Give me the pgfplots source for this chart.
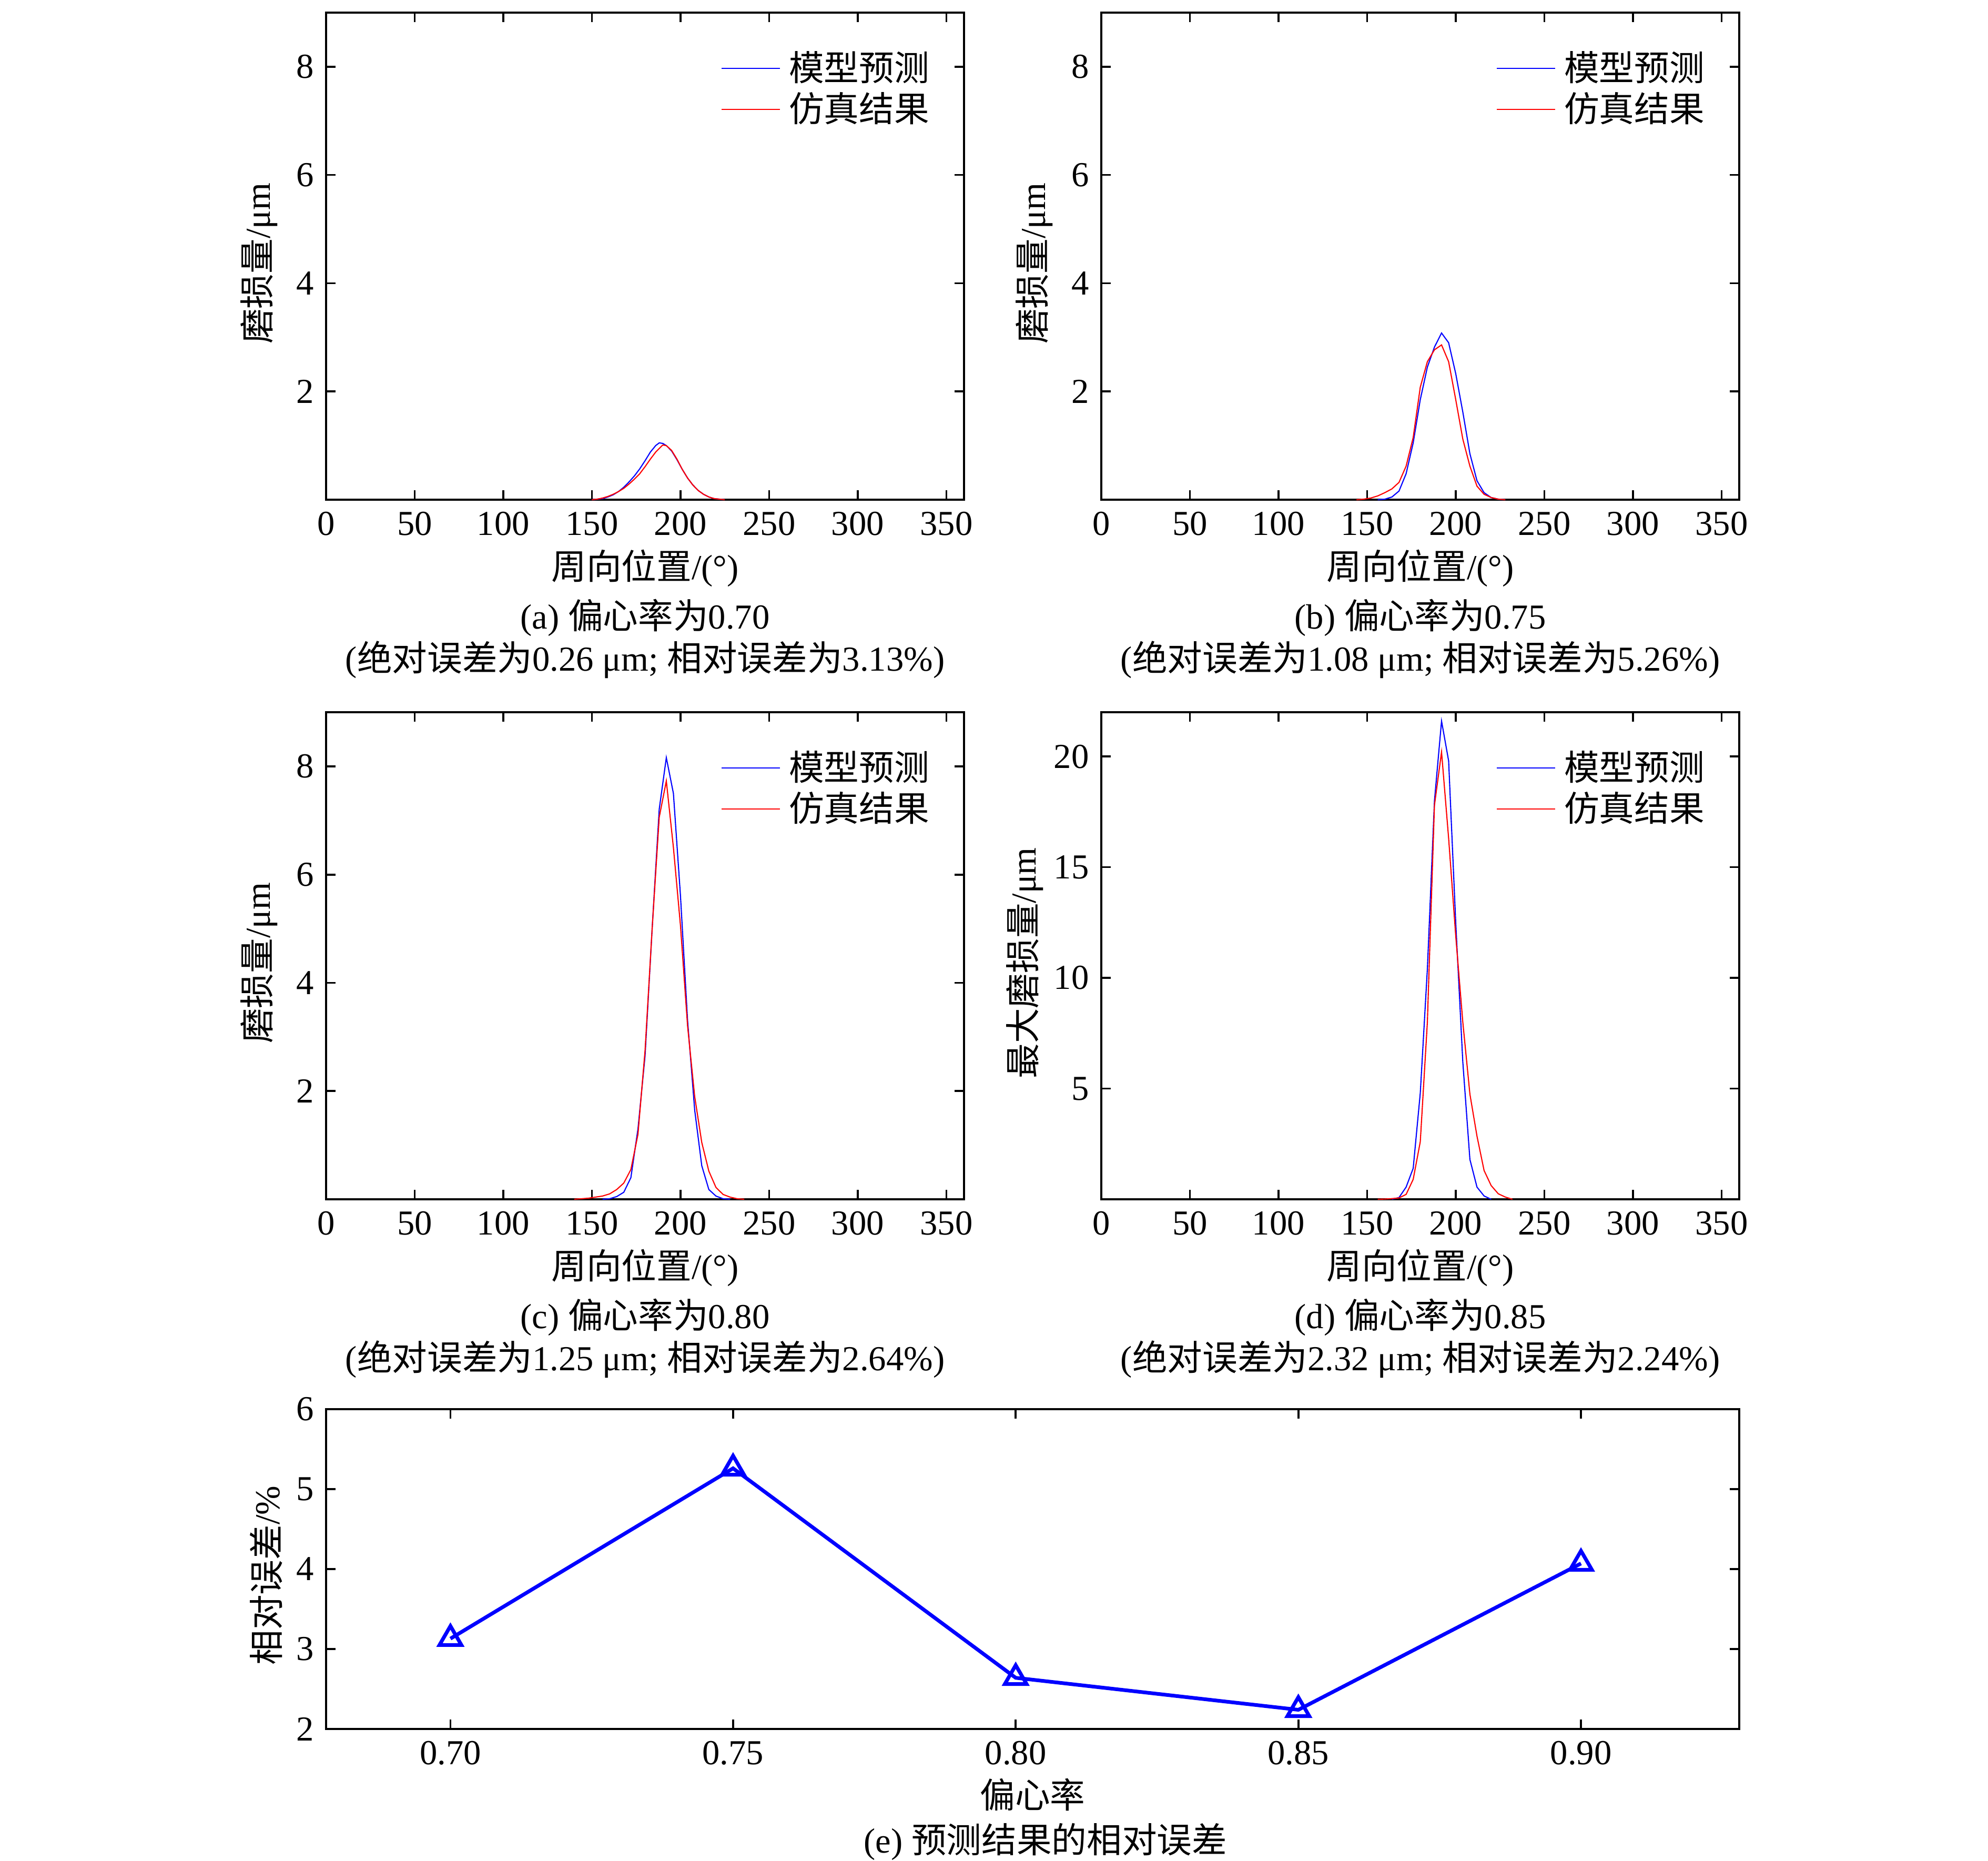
\documentclass[border=0pt]{standalone}
\usepackage{fontspec}
\setmainfont{Liberation Serif}
\newfontfamily\cjk{Noto Sans CJK SC}
\usepackage{pgfplots}
\pgfplotsset{compat=1.18}

\pgfplotsset{
  common/.style={
    scale only axis,
    tick align=inside,
    tick pos=both,
    major tick length=2.7pt,
    axis line style={line width=0.55pt},
    major tick style={line width=0.55pt, black},
    /pgf/number format/assume math mode=true,
    clip=false,
  },
  wearax/.style={
    common,
    width=181.95pt, height=138.9pt,
    xmin=0, xmax=360, ymin=0,
    xtick={0,50,...,350},
    xlabel={{\cjk 周向位置}/(°)},
    xlabel style={at={(axis description cs:0.5,-0.1404)}, anchor=center},
    legend style={draw=none, fill=none, at={(axis description cs:1,1)}, anchor=north east,
      xshift=-9.75pt, yshift=-10.8pt, inner sep=0pt, row sep=1.8pt, column sep=2.4pt,
      nodes={inner sep=0pt}},
    legend cell align=left,
    legend image code/.code={\draw[##1] (0pt,0pt) -- (16.65pt,0pt);},
  },
  pred/.style={color=blue, line width=0.32pt},
  sim/.style={color=red, line width=0.32pt},
}

\begin{document}
\begin{tikzpicture}
\useasboundingbox (0,0) rectangle (567pt,530.55pt);

% (a)
\begin{axis}[wearax, at={(93pt,388.05pt)}, anchor=south west,
  ymax=9, ytick={2,4,6,8},
  ylabel={{\cjk 磨损量}/μm},
  ylabel style={at={(axis description cs:-0.105,0.485)}, anchor=center}]
\addplot[pred] coordinates {(150,0)(153,0.01)(156,0.02)(159,0.05)(162,0.09)(165,0.15)(168,0.23)(171,0.33)(174,0.44)(177,0.57)(180,0.72)(183,0.88)(186,1.00)(188,1.05)(190,1.04)(192,1.00)(195,0.90)(198,0.74)(201,0.56)(204,0.40)(207,0.27)(210,0.17)(213,0.10)(216,0.05)(219,0.02)(222,0.01)(225,0)};
\addlegendentry{{\cjk 模型预测}}
\addplot[sim] coordinates {(150,0)(153,0.01)(156,0.03)(159,0.06)(162,0.10)(165,0.15)(168,0.21)(171,0.29)(174,0.38)(177,0.48)(180,0.61)(183,0.75)(186,0.88)(189,0.98)(190,1.01)(192,1.00)(195,0.91)(198,0.75)(201,0.56)(204,0.40)(207,0.27)(210,0.17)(213,0.10)(216,0.05)(219,0.02)(222,0.01)(225,0)};
\addlegendentry{{\cjk 仿真结果}}
\node[anchor=center] at (axis description cs:0.5,-0.2419) {(a) {\cjk 偏心率为}0.70};
\node[anchor=center] at (axis description cs:0.5,-0.3283) {({\cjk 绝对误差为}0.26 μm; {\cjk 相对误差为}3.13\%)};
\end{axis}

% (b)
\begin{axis}[wearax, at={(314.1pt,388.05pt)}, anchor=south west,
  ymax=9, ytick={2,4,6,8},
  ylabel={{\cjk 磨损量}/μm},
  ylabel style={at={(axis description cs:-0.105,0.485)}, anchor=center}]
\addplot[pred] coordinates {(156,0)(160,0.01)(164,0.05)(168,0.16)(172,0.48)(176,1.05)(180,1.85)(184,2.45)(188,2.82)(192,3.08)(196,2.90)(200,2.33)(204,1.62)(208,0.85)(212,0.35)(216,0.13)(220,0.04)(224,0.01)(228,0)};
\addlegendentry{{\cjk 模型预测}}
\addplot[sim] coordinates {(144,0)(148,0.01)(152,0.03)(156,0.07)(160,0.13)(164,0.20)(168,0.32)(172,0.62)(176,1.15)(180,2.08)(184,2.55)(188,2.77)(192,2.86)(196,2.55)(200,1.85)(204,1.12)(208,0.62)(212,0.25)(216,0.10)(220,0.04)(224,0.01)(228,0)};
\addlegendentry{{\cjk 仿真结果}}
\node[anchor=center] at (axis description cs:0.5,-0.2419) {(b) {\cjk 偏心率为}0.75};
\node[anchor=center] at (axis description cs:0.5,-0.3283) {({\cjk 绝对误差为}1.08 μm; {\cjk 相对误差为}5.26\%)};
\end{axis}

% (c)
\begin{axis}[wearax, at={(93pt,188.55pt)}, anchor=south west,
  ymax=9, ytick={2,4,6,8},
  ylabel={{\cjk 磨损量}/μm},
  ylabel style={at={(axis description cs:-0.105,0.485)}, anchor=center}]
\addplot[pred] coordinates {(156,0)(160,0.01)(164,0.05)(168,0.13)(172,0.40)(176,1.30)(180,2.65)(184,5.00)(188,7.21)(192,8.16)(196,7.50)(200,5.60)(204,3.30)(208,1.65)(212,0.62)(216,0.18)(220,0.06)(224,0.01)(228,0)};
\addlegendentry{{\cjk 模型预测}}
\addplot[sim] coordinates {(140,0)(144,0.01)(148,0.02)(152,0.04)(156,0.06)(160,0.10)(164,0.18)(168,0.30)(172,0.55)(176,1.20)(180,2.75)(184,5.00)(188,7.06)(192,7.73)(196,6.50)(200,5.05)(204,3.20)(208,1.90)(212,1.05)(216,0.52)(220,0.22)(224,0.09)(228,0.04)(232,0.01)(236,0)};
\addlegendentry{{\cjk 仿真结果}}
\node[anchor=center] at (axis description cs:0.5,-0.2419) {(c) {\cjk 偏心率为}0.80};
\node[anchor=center] at (axis description cs:0.5,-0.3283) {({\cjk 绝对误差为}1.25 μm; {\cjk 相对误差为}2.64\%)};
\end{axis}

% (d)
\begin{axis}[wearax, at={(314.1pt,188.55pt)}, anchor=south west,
  ymax=22, ytick={5,10,15,20},
  ylabel={{\cjk 最大磨损量}/μm},
  ylabel style={at={(axis description cs:-0.120,0.485)}, anchor=center}]
\addplot[pred] coordinates {(164,0)(168,0.08)(172,0.55)(176,1.4)(180,4.8)(184,10.4)(188,18.0)(192,21.6)(196,19.8)(200,12.5)(204,6.2)(208,1.8)(212,0.55)(216,0.15)(220,0)};
\addlegendentry{{\cjk 模型预测}}
\addplot[sim] coordinates {(156,0)(160,0.01)(164,0.03)(168,0.06)(172,0.22)(176,0.9)(180,2.6)(184,8.0)(188,17.8)(192,20.2)(196,16.3)(200,11.9)(204,8.0)(208,4.75)(212,2.85)(216,1.30)(220,0.62)(224,0.25)(228,0.10)(232,0)};
\addlegendentry{{\cjk 仿真结果}}
\node[anchor=center] at (axis description cs:0.5,-0.2419) {(d) {\cjk 偏心率为}0.85};
\node[anchor=center] at (axis description cs:0.5,-0.3283) {({\cjk 绝对误差为}2.32 μm; {\cjk 相对误差为}2.24\%)};
\end{axis}

% (e)
\begin{axis}[common, at={(93pt,37.5pt)}, anchor=south west,
  width=403.05pt, height=91.2pt,
  xmin=0.678, xmax=0.928, ymin=2, ymax=6,
  xtick={0.70,0.75,0.80,0.85,0.90}, ytick={2,3,4,5,6},
  xticklabel style={/pgf/number format/.cd, fixed, fixed zerofill, precision=2},
  xlabel={{\cjk 偏心率}},
  xlabel style={at={(axis description cs:0.5,-0.2056)}, anchor=center},
  ylabel={{\cjk 相对误差}/\%},
  ylabel style={at={(axis description cs:-0.0424,0.48)}, anchor=center}]
\addplot[color=blue, line width=1.05pt, mark=triangle, mark size=3.6pt, mark options={solid, line width=1.05pt}] coordinates {(0.70,3.13)(0.75,5.26)(0.80,2.64)(0.85,2.24)(0.90,4.07)};
\node[anchor=center] at (axis description cs:0.509,-0.352) {(e) {\cjk 预测结果的相对误差}};
\end{axis}
\end{tikzpicture}
\end{document}
